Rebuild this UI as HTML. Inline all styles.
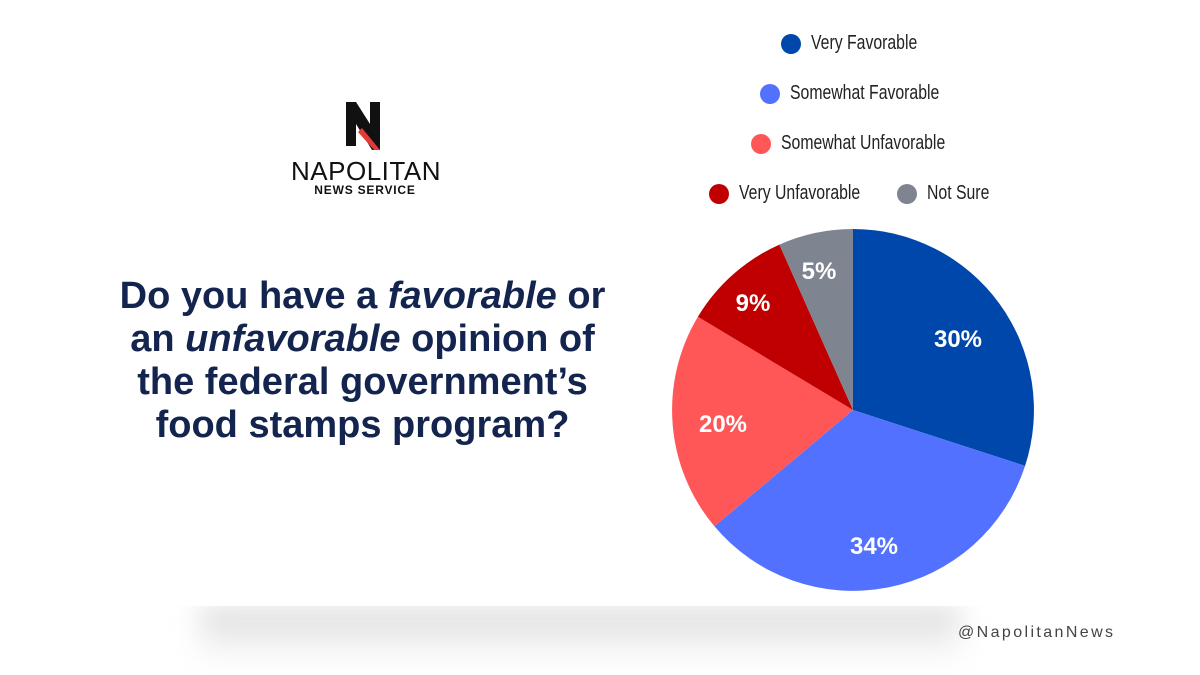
<!DOCTYPE html>
<html><head><style>
body{margin:0;width:1200px;height:675px;background:#fff;position:relative;overflow:hidden;font-family:"Liberation Sans",sans-serif}
.sh{position:absolute;left:200px;top:606px;width:760px;height:60px;background:linear-gradient(#d8d8d8,#f6f6f6 70%,#fff);filter:blur(14px)}
.card{position:absolute;left:0;top:0;width:1200px;height:606px;background:#fff}
.q{position:absolute;left:60px;top:275px;width:605px;text-align:center;color:#13244f;font-weight:bold;font-size:38px;line-height:43px;white-space:nowrap}
.leg{position:absolute;font-size:20px;color:#222;display:flex;align-items:center;white-space:nowrap}
.leg i{display:inline-block;width:20px;height:20px;border-radius:50%;margin-right:10px;flex:none}
.leg span{display:inline-block;transform:scaleX(0.79);transform-origin:left center}
.h{position:absolute;left:958px;top:624px;font-size:16px;letter-spacing:2.4px;color:#444}
</style></head><body>
<div class="sh"></div><div class="card"></div>
<svg style="position:absolute;left:0;top:0" width="1200" height="675">
<path d="M346 102h10l14 22v-22h10v48h-8l-16-26v22h-10z" fill="#111"/>
<path d="M362 128l18 22h-6l-16-18z" fill="#e53935"/>
<text x="366" y="180" text-anchor="middle" font-family="Liberation Sans" font-size="26" fill="#111" letter-spacing="0.5">NAPOLITAN</text>
<text x="365" y="194" text-anchor="middle" font-family="Liberation Sans" font-weight="bold" font-size="12" fill="#111" letter-spacing="0.8">NEWS SERVICE</text>
<path d="M853 410L853 229A181 181 0 0 1 1025.1 465.9Z" fill="#0047ab"/>
<path d="M853 410L1025.1 465.9A181 181 0 0 1 714.4 526.3Z" fill="#5271ff"/>
<path d="M853 410L714.4 526.3A181 181 0 0 1 697.9 316.8Z" fill="#ff5757"/>
<path d="M853 410L697.9 316.8A181 181 0 0 1 779.4 244.6Z" fill="#c00000"/>
<path d="M853 410L779.4 244.6A181 181 0 0 1 853 229Z" fill="#7f8590"/>
<g fill="#fff" font-weight="bold" font-size="24" text-anchor="middle" font-family="Liberation Sans">
<text x="958" y="347">30%</text><text x="874" y="554">34%</text><text x="723" y="432">20%</text><text x="753" y="311">9%</text><text x="819" y="279">5%</text></g>
</svg>
<div class="q">Do you have a <i>favorable</i> or<br>an <i>unfavorable</i> opinion of<br>the federal government’s<br>food stamps program?</div>
<div class="leg" style="left:781px;top:32px"><i style="background:#0047ab"></i><span>Very Favorable</span></div>
<div class="leg" style="left:760px;top:82px"><i style="background:#5271ff"></i><span>Somewhat Favorable</span></div>
<div class="leg" style="left:751px;top:132px"><i style="background:#ff5757"></i><span>Somewhat Unfavorable</span></div>
<div class="leg" style="left:709px;top:182px"><i style="background:#c00000"></i><span>Very Unfavorable</span></div>
<div class="leg" style="left:897px;top:182px"><i style="background:#7f8590"></i><span>Not Sure</span></div>
<div class="h">@NapolitanNews</div>
</body></html>
